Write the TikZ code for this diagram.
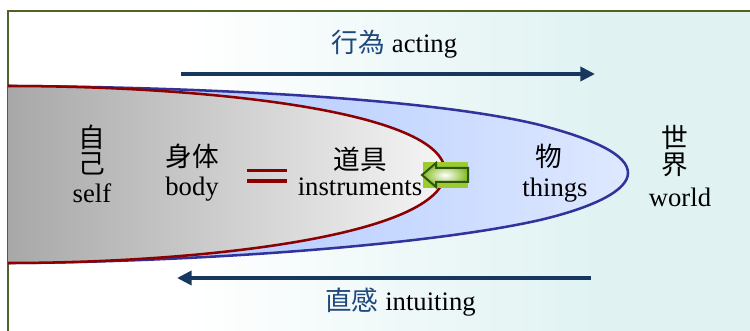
\documentclass[tikz,border=0pt]{standalone}
\usepackage{fontspec}
\setmainfont{Liberation Serif}
\newfontfamily\cjk{Noto Sans CJK JP}
\usetikzlibrary{arrows.meta}
\definecolor{framegreen}{RGB}{79,98,40}
\definecolor{navy}{RGB}{23,55,94}
\definecolor{labelblue}{RGB}{31,73,125}
\definecolor{outlinered}{RGB}{140,0,0}
\definecolor{outlineblue}{RGB}{50,50,155}
\definecolor{bluefillL}{RGB}{160,190,255}
\definecolor{bluefillR}{RGB}{222,232,255}
\definecolor{grayL}{RGB}{168,168,168}
\definecolor{grayR}{RGB}{245,245,245}
\definecolor{teal}{RGB}{224,242,242}
\definecolor{boxgreen}{RGB}{155,203,45}
\definecolor{arrowgreen}{RGB}{130,185,30}
\definecolor{darkgreen}{RGB}{45,85,15}
\tikzset{
  lbl/.style={inner sep=0pt, font=\fontsize{20}{24}\selectfont},
  cjklbl/.style={inner sep=0pt, font=\fontsize{20}{24}\selectfont\cjk},
  flowarrow/.style={draw=navy, line width=3pt, -{Triangle[length=11pt,width=10.5pt]}},
  eqbar/.style={draw=outlinered, line width=2.3pt},
}
\begin{document}
\begin{tikzpicture}[x=0.75pt,y=-0.75pt]
\useasboundingbox (0,0) rectangle (750,331);
\clip (0,0) rectangle (750,331);
% background
\fill[white] (8,11) rectangle (190,340);
\shade[left color=white, right color=teal] (189,11) rectangle (601,340);
\fill[teal] (600,11) rectangle (760,340);
\draw[framegreen, line width=1.6pt] (8,345) -- (8,11) -- (760,11);
% blue shape (things)
\shade[left color=bluefillL, right color=bluefillR]
  (8,86) .. controls (200,87) and (430,98) .. (540,125)
  .. controls (595,139.5) and (628,155) .. (628,173)
  .. controls (628,190) and (595,207) .. (540,220)
  .. controls (430,245) and (200,262) .. (8,263) -- cycle;
\draw[outlineblue, line width=1.9pt]
  (8,86) .. controls (200,87) and (430,98) .. (540,125)
  .. controls (595,139.5) and (628,155) .. (628,173)
  .. controls (628,190) and (595,207) .. (540,220)
  .. controls (430,245) and (200,262) .. (8,263);
% gray shape (body / instruments)
\shade[left color=grayL, right color=grayR]
  (8,86) .. controls (200,86) and (445,110) .. (445,172)
  .. controls (445,236) and (200,263) .. (8,263) -- cycle;
\draw[outlinered, line width=1.9pt]
  (8,86) .. controls (200,86) and (445,110) .. (445,172)
  .. controls (445,236) and (200,263) .. (8,263);
% green arrow
\fill[boxgreen] (423,162) rectangle (468,188);
\shadedraw[draw=darkgreen, line width=1.5pt, inner color=white, outer color=arrowgreen]
  (422,175) -- (436,163) -- (436,168) -- (468,168) -- (468,182) -- (436,182) -- (436,187) -- cycle;
% equals sign
\draw[eqbar] (247,170.5) -- (287,170.5);
\draw[eqbar] (247,181) -- (287,181);
% flow arrows
\coordinate (actS) at (181,74);
\coordinate (actE) at (595,74);
\coordinate (intS) at (591,278);
\coordinate (intE) at (177,278);
\draw[flowarrow] (actS) -- (actE);
\draw[flowarrow] (intS) -- (intE);
% labels
\node[lbl, anchor=base] (acting) at (394.5,53) {{\cjk\color{labelblue}行為} acting};
\node[lbl, anchor=base] (intuiting) at (400.5,311) {{\cjk\color{labelblue}直感} intuiting};
\node[cjklbl] (ji) at (92,137) {自};
\node[cjklbl] (ko) at (92,163.5) {己};
\node[lbl, anchor=base] (self) at (92,203) {self};
\node[cjklbl] (shintai) at (192,156) {身体};
\node[lbl, anchor=base] (body) at (192,196) {body};
\node[cjklbl] (dougu) at (360,159) {道具};
\node[lbl, anchor=base] (instr) at (360,196) {instruments};
\node[cjklbl] (mono) at (549,156) {物};
\node[lbl, anchor=base] (things) at (555,197) {things};
\node[cjklbl] (se) at (675,137.5) {世};
\node[cjklbl] (kai) at (675,165) {界};
\node[lbl, anchor=base] (world) at (680,207) {world};
\end{tikzpicture}
\end{document}
